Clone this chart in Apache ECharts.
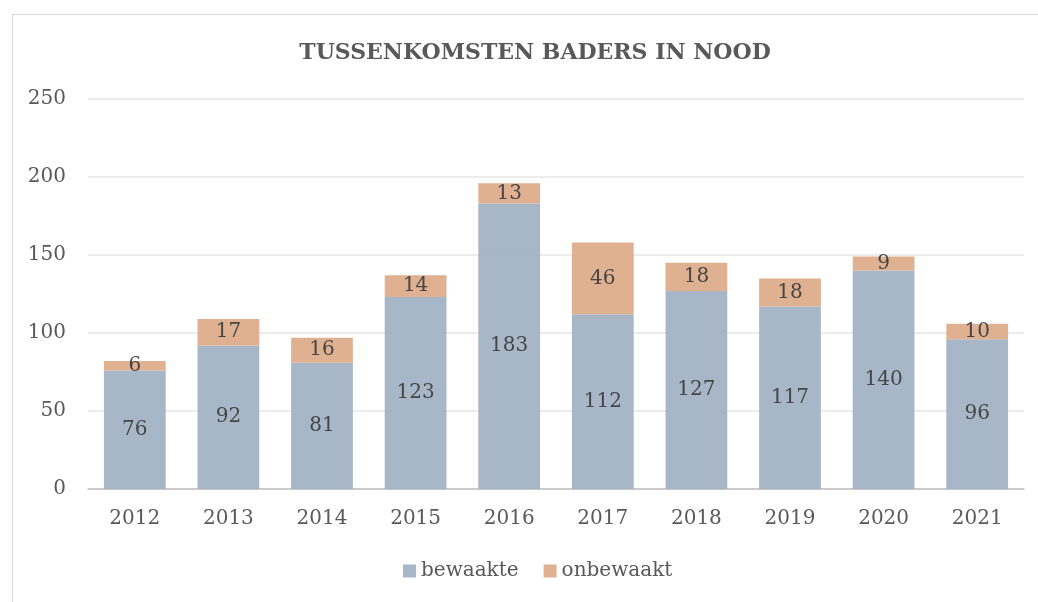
<!DOCTYPE html>
<html>
<head>
<meta charset="utf-8">
<script src="https://cdn.jsdelivr.net/npm/echarts@6/dist/echarts.min.js"></script>
<style>
  html, body { margin: 0; padding: 0; background: #fff; }
  .frame {
    position: absolute; left: 12px; top: 14px; width: 1100px; height: 700px;
    border: 1.5px solid #d9d9d9; box-sizing: border-box;
  }
  #chart { position: absolute; left: 0; top: 0; width: 1038px; height: 602px; }
</style>
</head>
<body>
<div class="frame"></div>
<div id="chart"></div>
<script>
const years = ['2012', '2013', '2014', '2015', '2016', '2017', '2018', '2019', '2020', '2021'];
const bewaakte = [76, 92, 81, 123, 183, 112, 127, 117, 140, 96];
const onbewaakt = [6, 17, 16, 14, 13, 46, 18, 18, 9, 10];

const font = '"DejaVu Serif", serif';
const chart = echarts.init(document.getElementById('chart'));

// labels in het midden van elk segment
const labelStyle = {
  show: true,
  position: 'inside',
  color: '#404040',
  fontFamily: font,
  fontSize: 20
};

chart.setOption({
  animation: false,
  title: {
    text: 'TUSSENKOMSTEN BADERS IN NOOD',
    left: 530,
    textAlign: 'center',
    top: 37,
    textStyle: { fontFamily: font, fontSize: 22, fontWeight: 'bold', color: '#595959' }
  },
  legend: {
    bottom: 16,
    left: 398,
    itemWidth: 13,
    itemHeight: 13,
    itemGap: 25,
    icon: 'rect',
    textStyle: { fontFamily: font, fontSize: 20, color: '#595959' },
    data: ['bewaakte', 'onbewaakt']
  },
  grid: { left: 88, right: 14, top: 99, bottom: 113 },
  xAxis: {
    type: 'category',
    data: years,
    axisTick: { show: false },
    axisLine: { lineStyle: { color: '#bfbfbf', width: 1.5 } },
    axisLabel: { fontFamily: font, fontSize: 20, color: '#595959', margin: 20 }
  },
  yAxis: {
    type: 'value',
    min: 0,
    max: 250,
    interval: 50,
    axisLine: { show: false },
    axisTick: { show: false },
    axisLabel: { fontFamily: font, fontSize: 20, color: '#595959', margin: 22 },
    splitLine: { lineStyle: { color: '#e6e6e6', width: 1.5 } }
  },
  series: [
    {
      name: 'bewaakte',
      type: 'bar',
      stack: 'totaal',
      barCategoryGap: '34%',
      data: bewaakte,
      itemStyle: { color: '#a3b3c4', opacity: 0.95 },
      label: labelStyle
    },
    {
      name: 'onbewaakt',
      type: 'bar',
      stack: 'totaal',
      data: onbewaakt,
      itemStyle: { color: '#ddad8b', opacity: 0.95 },
      label: labelStyle
    }
  ]
});
</script>
</body>
</html>
